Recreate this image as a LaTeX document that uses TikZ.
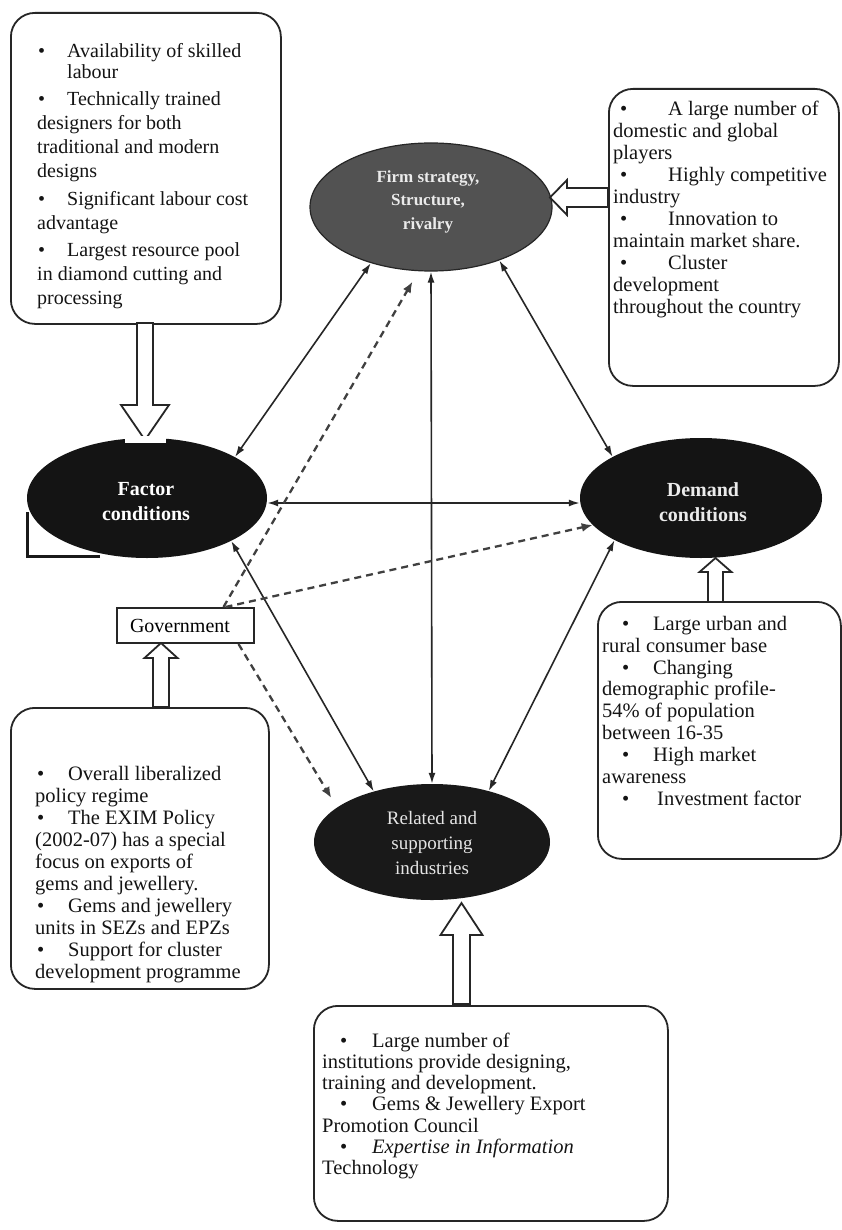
\documentclass[tikz,border=0pt]{standalone}
\usepackage{fontspec}
\setmainfont{Liberation Serif}
\usetikzlibrary{arrows.meta,shapes.geometric,calc}
\newcommand\bl[2]{\hspace*{#1pt}\makebox[#2pt][l]{\textbullet}}
\newcommand\hollowarrow[6]{% name, start, end, shaft half width, head half width, head length
  \coordinate (#1-b) at ($(#3)!#6pt!(#2)$);
  \draw[harrow] ($(#2)!#4pt!90:(#3)$) -- ($(#1-b)!#4pt!90:(#3)$) -- ($(#1-b)!#5pt!90:(#3)$)
    -- (#3) -- ($(#1-b)!#5pt!-90:(#3)$) -- ($(#1-b)!#4pt!-90:(#3)$) -- ($(#2)!#4pt!-90:(#3)$) -- cycle;
}
\begin{document}
\begin{tikzpicture}[x=1pt,y=-1pt,
  box/.style={draw=black!85, line width=1.8pt, rounded corners=24pt, fill=white, anchor=north west, inner sep=0pt},
  txt/.style={anchor=north west, inner sep=0pt, align=left, text=black!92},
  ell/.style={ellipse, inner sep=0pt},
  etxt/.style={inner sep=0pt, align=center},
  sarrow/.style={{Latex[length=11pt,width=7pt]}-{Latex[length=11pt,width=7pt]}, line width=1.6pt, draw=black!85},
  darrow/.style={-{Latex[length=11pt,width=9pt]}, line width=2.3pt, dash pattern=on 7pt off 5pt, draw=black!75},
  harrow/.style={draw=black!85, line width=1.8pt, fill=white, line join=miter}
]
\useasboundingbox[fill=white] (0,0) rectangle (842,1230);

% text boxes
\node[box, minimum width=270pt, minimum height=311pt] (b1) at (10,12) {};
\node[box, minimum width=230pt, minimum height=297pt] (b2) at (608,88) {};
\node[box, minimum width=243pt, minimum height=257pt] (b3) at (597,601) {};
\node[box, minimum width=258pt, minimum height=281pt] (b4) at (10,707) {};
\node[box, minimum width=354pt, minimum height=215pt] (b5) at (313,1005) {};

\node[txt, font=\fontsize{20}{24}\selectfont] (t1) at ([shift={(27,29)}]b1.north west) {%
\rule{0pt}{16pt}\bl{1}{29}Availability of skilled\\[-3pt]
\hspace*{30pt}labour\\[3.5pt]
\bl{1}{29}Technically trained\\
designers for both\\
traditional and modern\\
designs\\[3.5pt]
\bl{1}{29}Significant labour cost\\
advantage\\[3.5pt]
\bl{1}{29}Largest resource pool\\
in diamond cutting and\\
processing};

\node[txt, font=\fontsize{20.5}{22}\selectfont] (t2) at ([shift={(5,11)}]b2.north west) {%
\rule{0pt}{16pt}\bl{7}{48}A large number of\\
domestic and global\\
players\\
\bl{7}{48}Highly competitive\\
industry\\
\bl{7}{48}Innovation to\\
maintain market share.\\
\bl{7}{48}Cluster\\
development\\
throughout the country};

\node[txt, font=\fontsize{20.5}{21.9}\selectfont] (t3) at ([shift={(5,13)}]b3.north west) {%
\rule{0pt}{16pt}\bl{20}{31}Large urban and\\
rural consumer base\\
\bl{20}{31}Changing\\
demographic profile-\\
54\% of population\\
between 16-35\\
\bl{20}{31}High market\\
awareness\\
\bl{20}{35}Investment factor};

\node[txt, font=\fontsize{20.5}{22}\selectfont] (t4) at ([shift={(25,57)}]b4.north west) {%
\rule{0pt}{16pt}\bl{2}{31}Overall liberalized\\
policy regime\\
\bl{2}{31}The EXIM Policy\\
(2002-07) has a special\\
focus on exports of\\
gems and jewellery.\\
\bl{2}{31}Gems and jewellery\\
units in SEZs and EPZs\\
\bl{2}{31}Support for cluster\\
development programme};

\node[txt, font=\fontsize{20.5}{21.2}\selectfont] (t5) at ([shift={(9,26)}]b5.north west) {%
\rule{0pt}{16pt}\bl{18}{32}Large number of\\
institutions provide designing,\\
training and development.\\
\bl{18}{32}Gems \& Jewellery Export\\
Promotion Council\\
\bl{18}{32}\textit{Expertise in Information}\\
Technology};

% government box
\node[draw=black!85, line width=2pt, fill=white, minimum width=137pt, minimum height=35pt,
      text width=111pt, inner xsep=13pt, align=left, anchor=north west,
      font=\fontsize{20}{22}\selectfont] (gov) at (116,607) {Government};

% stray L mark behind the factor ellipse
\draw[line width=3pt, draw=black!90] (27,512) -- (27,556) -- (100,556);

% ellipses
\node[ell, minimum width=240pt, minimum height=120pt, fill=black!92] (factor) at (147,498) {};
\node[ell, minimum width=242pt, minimum height=120pt, fill=black!92] (demand) at (701,498) {};
\node[ell, minimum width=242pt, minimum height=128pt, fill=black!68, draw=black!85, line width=1.2pt] (firm) at (431,207) {};
\node[ell, minimum width=236pt, minimum height=116pt, fill=black!90] (related) at (432,842) {};

\node[etxt, text=white, font=\bfseries\fontsize{20}{25}\selectfont] (factortxt) at ([shift={(-1,4)}]factor.center) {Factor\\conditions};
\node[etxt, text=black!8, font=\bfseries\fontsize{20}{25}\selectfont] (demandtxt) at ([shift={(2,4)}]demand.center) {Demand\\conditions};
\node[etxt, text=black!8, font=\bfseries\fontsize{17}{23.5}\selectfont] (firmtxt) at ([shift={(-3,-5.5)}]firm.center) {Firm strategy,\\Structure,\\rivalry};
\node[etxt, text=black!10, font=\fontsize{19}{25}\selectfont] (relatedtxt) at ([shift={(0,1)}]related.center) {Related and\\supporting\\industries};

% solid two-way links
\draw[sarrow] (factor.25.5) -- (firm.223);
\draw[sarrow] (firm.south) -- (related.north);
\draw[sarrow] (firm.-38.7) -- (demand.155.7);
\draw[sarrow] ([yshift=-5pt]factor.east) -- ([yshift=-5pt]demand.west);
\draw[sarrow] (factor.-27) -- (related.139);
\draw[sarrow] (demand.206.3) -- (related.42);

% dashed links from government
\draw[darrow, shorten >=12pt] ([xshift=38pt]gov.north) -- (firm.-101.5);
\draw[darrow] ([xshift=40pt]gov.north) -- (demand.194);
\draw[darrow, shorten >=11pt] ([xshift=53pt]gov.south) -- (related.160);

% hollow block arrows
\coordinate (a1s) at (145,323); \coordinate (a1e) at (145,440);
\hollowarrow{a1}{a1s}{a1e}{8}{24}{35}
\fill[white] (125,436) rectangle (166,443);
\coordinate (a2s) at (608,197.5); \coordinate (a2e) at (550,197.5);
\hollowarrow{a2}{a2s}{a2e}{9.5}{17.5}{17}
\coordinate (a3s) at (715.5,602); \coordinate (a3e) at (715.5,558);
\hollowarrow{a3}{a3s}{a3e}{7.5}{16}{14}
\coordinate (a4s) at (161,707); \coordinate (a4e) at (161,643);
\hollowarrow{a4}{a4s}{a4e}{8}{16.5}{15}
\coordinate (a5s) at (461.5,1004); \coordinate (a5e) at (461.5,903);
\hollowarrow{a5}{a5s}{a5e}{8.5}{21}{32}
\end{tikzpicture}
\end{document}
